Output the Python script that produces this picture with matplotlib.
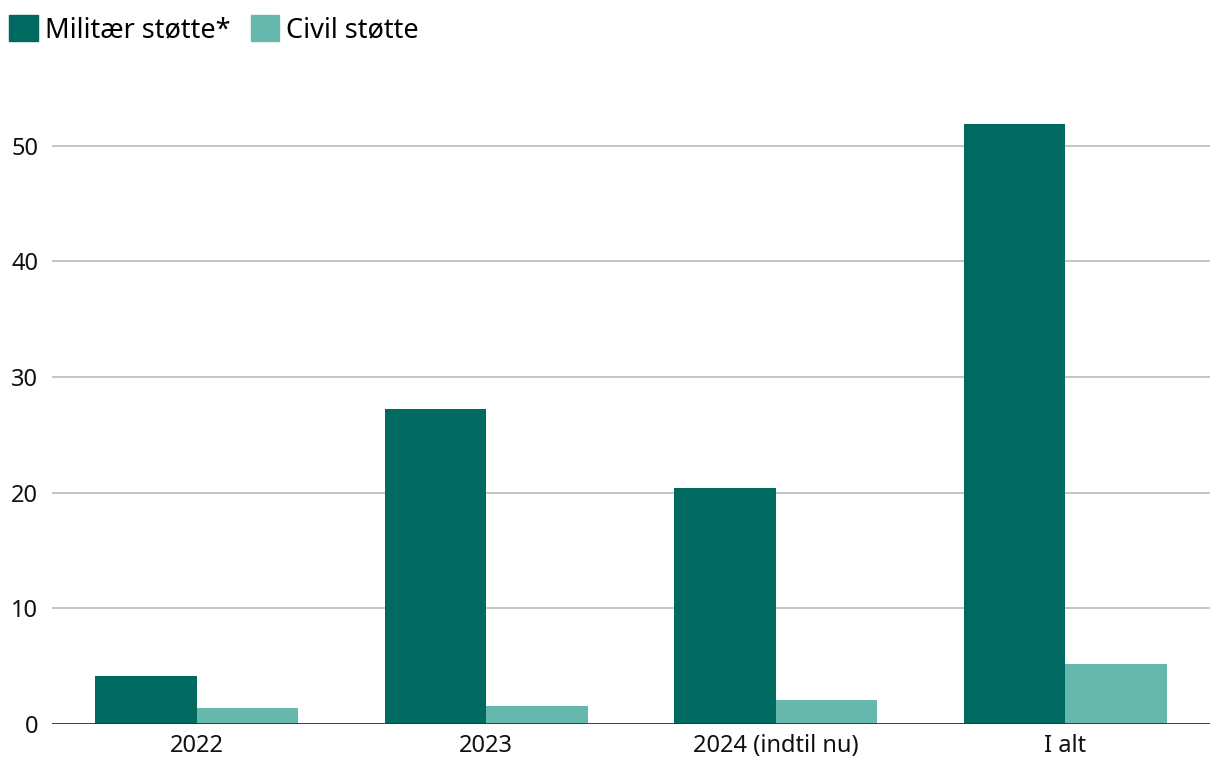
import matplotlib.pyplot as plt
import numpy as np
from matplotlib.patches import Patch

plt.rcParams["font.family"] = ["Noto Sans", "DejaVu Sans"]

categories = ["2022", "2023", "2024 (indtil nu)", "I alt"]
military = [4.13, 27.25, 20.43, 51.9]
civil = [1.36, 1.55, 2.1, 5.18]
series_labels = ["Militær støtte*", "Civil støtte"]
dark = "#006a60"
light = "#66b8ad"

W, H = 1220, 776
fig = plt.figure(figsize=(W / 100, H / 100), dpi=100)
left, right, bottom, top = 52, 1210, 724, 111
ax = fig.add_axes([left / W, (H - bottom) / H, (right - left) / W, (bottom - top) / H])

x = np.arange(len(categories))
width = 0.35
ax.bar(x - width / 2, military, width, color=dark, zorder=3)
ax.bar(x + width / 2, civil, width, color=light, zorder=3)

ax.set_xlim(-0.5, len(categories) - 0.5)
ax.set_ylim(0, 53)
ax.set_yticks([0, 10, 20, 30, 40, 50])
ax.set_xticks(x)
ax.set_xticklabels(categories)
ax.grid(axis="y", color="#c0c0c0", linewidth=1.3, zorder=0)
ax.axhline(0, color="#333333", linewidth=2, zorder=4)
for s in ax.spines.values():
    s.set_visible(False)
ax.tick_params(axis="both", length=0, labelsize=17, colors="#111111")
ax.tick_params(axis="y", pad=10)
ax.tick_params(axis="x", pad=7)

handles = [Patch(color=dark), Patch(color=light)]
fig.legend(handles, series_labels, loc="upper left", bbox_to_anchor=(0.0, 1.0 - 6 / H),
           ncol=2, frameon=False, fontsize=19.5, handlelength=1.05, handleheight=1.05,
           handletextpad=0.25, columnspacing=0.75, borderaxespad=0.0, borderpad=0.35)

fig.savefig("out.png", dpi=100)
